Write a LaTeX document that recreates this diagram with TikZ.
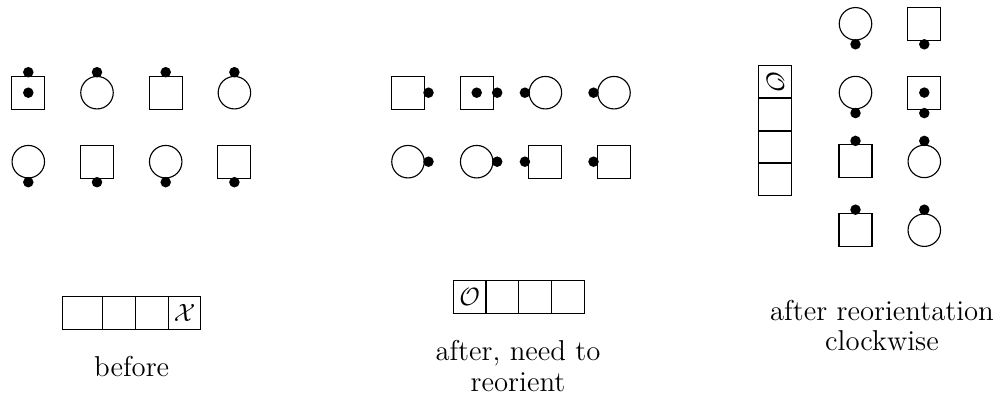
\documentclass[tikz,border=0pt]{standalone}
\begin{document}
\begin{tikzpicture}[x=0.4pt,y=-0.4pt,
  sq/.style={draw,line width=0.45pt,rectangle,minimum size=13.2pt,inner sep=0pt},
  ci/.style={draw,line width=0.45pt,circle,minimum size=13pt,inner sep=0pt},
  dot/.style={fill=black,circle,minimum size=4.2pt,inner sep=0pt},
  cell/.style={draw,line width=0.45pt,rectangle,minimum width=13.1pt,minimum height=13.2pt,inner sep=0pt},
  lab/.style={align=center,font=\fontsize{11.5}{12.2}\selectfont,inner sep=0pt}]
\useasboundingbox (0,0) rectangle (1001,397);
% ---------- before ----------
\node[sq] (b1) at (28.3,92.7) {};
\node[dot] (b1c) at (28.3,92.7) {};
\node[dot] (b1d) at (28.3,72.2) {};
\node[ci] (b2) at (97,92.7) {};
\node[dot] (b2d) at (97,72.2) {};
\node[sq] (b3) at (165.7,92.7) {};
\node[dot] (b3d) at (165.7,72.2) {};
\node[ci] (b4) at (234.4,92.7) {};
\node[dot] (b4d) at (234.4,72.2) {};
\node[ci] (b5) at (28.3,161.7) {};
\node[dot] (b5d) at (28.3,182.2) {};
\node[sq] (b6) at (97,161.7) {};
\node[dot] (b6d) at (97,182.2) {};
\node[ci] (b7) at (165.7,161.7) {};
\node[dot] (b7d) at (165.7,182.2) {};
\node[sq] (b8) at (234.4,161.7) {};
\node[dot] (b8d) at (234.4,182.2) {};
% ---------- after ----------
\node[sq] (a1) at (408,92.7) {};
\node[dot] (a1d) at (428.5,92.7) {};
\node[sq] (a2) at (476.7,92.7) {};
\node[dot] (a2c) at (476.7,92.7) {};
\node[dot] (a2d) at (497.2,92.7) {};
\node[ci] (a3) at (545.4,92.7) {};
\node[dot] (a3d) at (524.9,92.7) {};
\node[ci] (a4) at (614,92.7) {};
\node[dot] (a4d) at (593.5,92.7) {};
\node[ci] (a5) at (408,161.7) {};
\node[dot] (a5d) at (428.5,161.7) {};
\node[ci] (a6) at (476.7,161.7) {};
\node[dot] (a6d) at (497.2,161.7) {};
\node[sq] (a7) at (545.4,161.7) {};
\node[dot] (a7d) at (524.9,161.7) {};
\node[sq] (a8) at (614,161.7) {};
\node[dot] (a8d) at (593.5,161.7) {};
% ---------- reoriented ----------
\node[ci] (r1) at (855.5,23.8) {};
\node[dot] (r1d) at (855.5,44.3) {};
\node[sq] (r2) at (924.3,23.8) {};
\node[dot] (r2d) at (924.3,44.3) {};
\node[ci] (r3) at (855.5,92.6) {};
\node[dot] (r3d) at (855.5,113.1) {};
\node[sq] (r4) at (924.3,92.6) {};
\node[dot] (r4c) at (924.3,92.6) {};
\node[dot] (r4d) at (924.3,113.1) {};
\node[sq] (r5) at (855.5,161.4) {};
\node[dot] (r5d) at (855.5,140.9) {};
\node[ci] (r6) at (924.3,161.4) {};
\node[dot] (r6d) at (924.3,140.9) {};
\node[sq] (r7) at (855.5,230.2) {};
\node[dot] (r7d) at (855.5,209.7) {};
\node[ci] (r8) at (924.3,230.2) {};
\node[dot] (r8d) at (924.3,209.7) {};
% ---------- arrays ----------
\node[cell,minimum width=16.2pt] (bc1) at (82.5,312.7) {};
\node[cell] (bc2) at (119,312.7) {};
\node[cell] (bc3) at (151.8,312.7) {};
\node[cell] (bc4) at (184.5,312.7) {$\mathcal{X}$};
\node[cell] (ac1) at (469.7,297) {$\mathcal{O}$};
\node[cell] (ac2) at (502.3,297) {};
\node[cell] (ac3) at (535,297) {};
\node[cell] (ac4) at (567.7,297) {};
\node[cell] (rc1) at (775.3,82) {\rotatebox{-90}{$\mathcal{O}$}};
\node[cell] (rc2) at (775.3,114.5) {};
\node[cell] (rc3) at (775.3,147) {};
\node[cell] (rc4) at (775.3,179.2) {};
% ---------- labels (base = baseline of the last line) ----------
\node[lab,anchor=base] (lb) at (131.7,376.7) {before};
\node[lab,anchor=base] (la) at (518,391.5) {after, need to\\reorient};
\node[lab,anchor=base] (lr) at (882,350.7) {after reorientation\\clockwise};
\end{tikzpicture}
\end{document}
